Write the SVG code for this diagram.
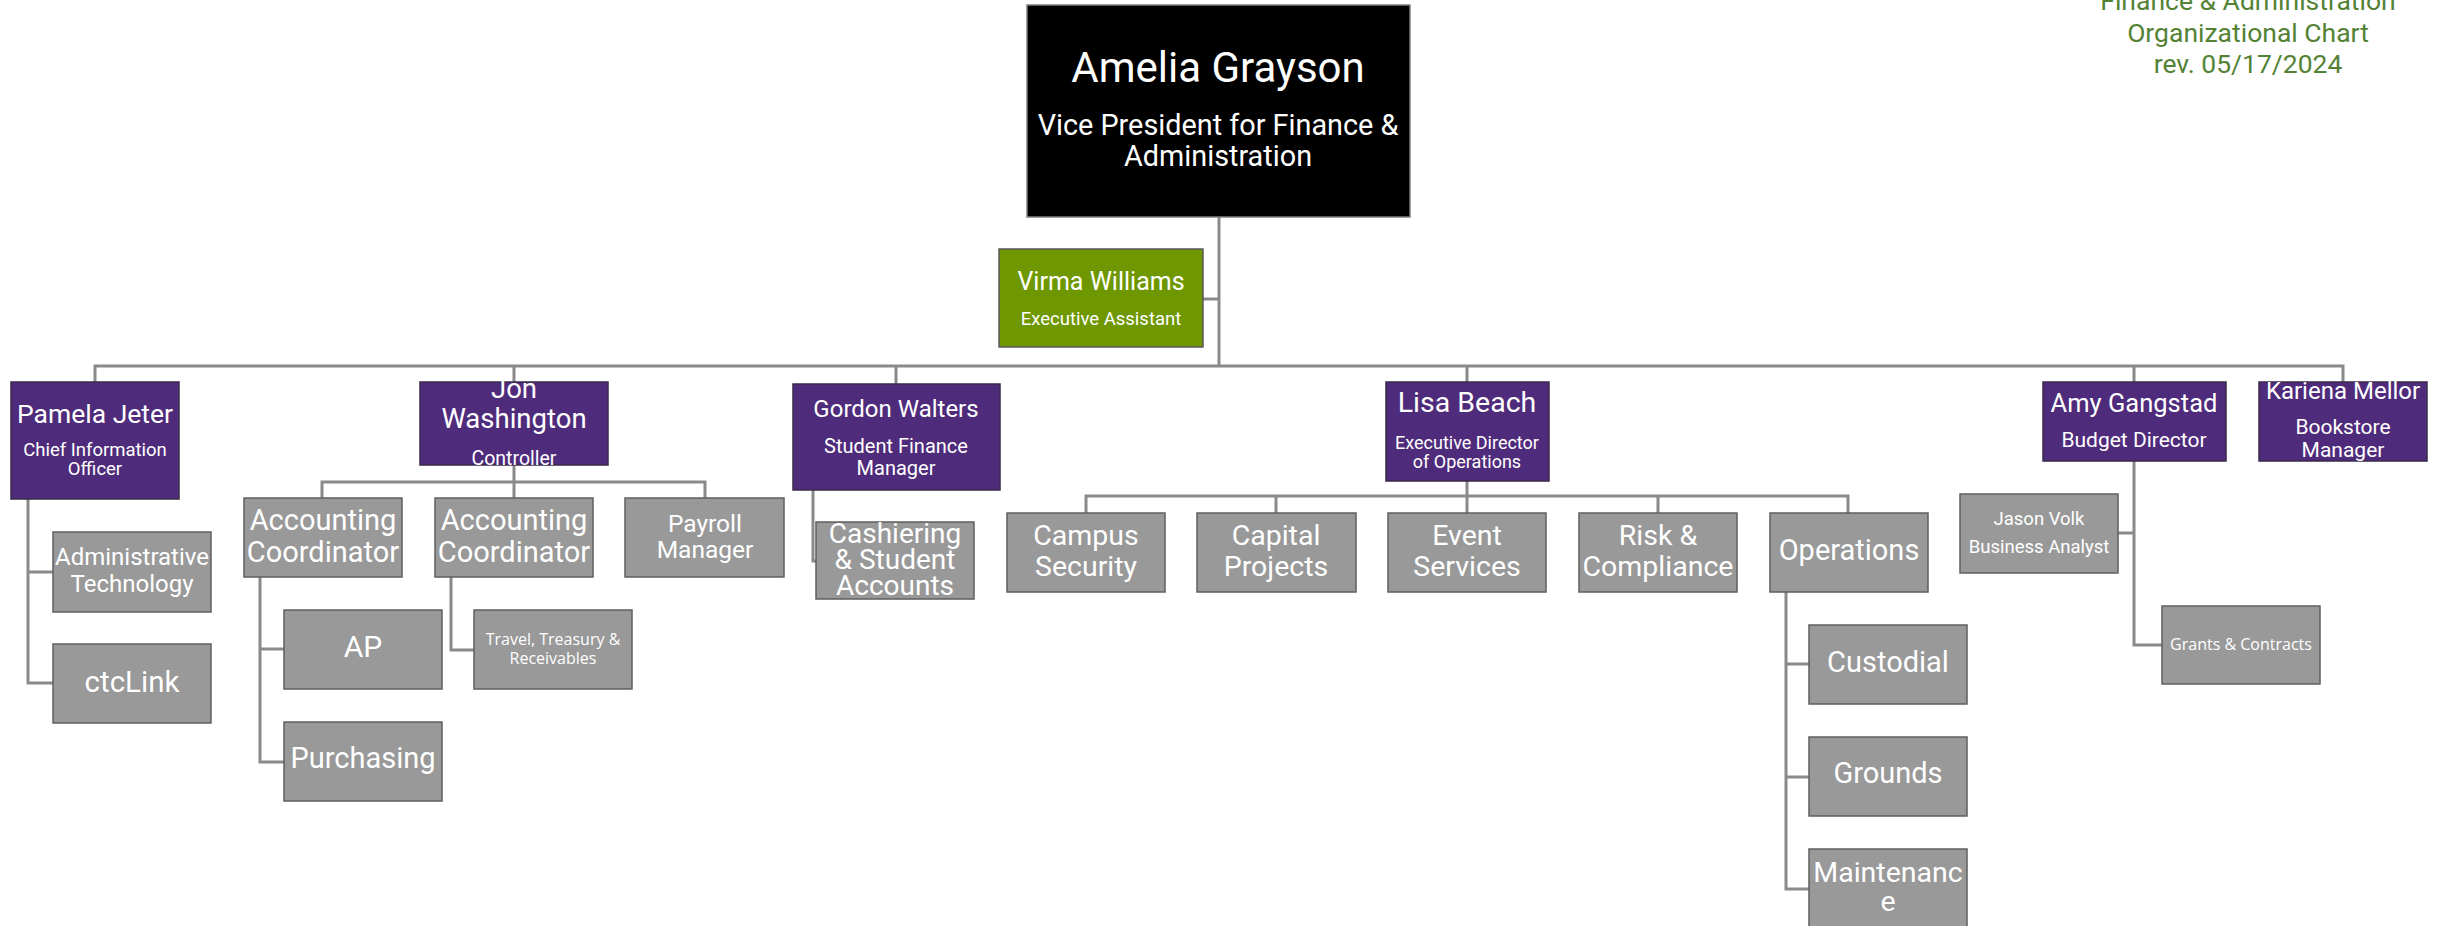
<svg xmlns="http://www.w3.org/2000/svg" width="2443" height="926" viewBox="0 0 2443 926">
<style>
.bk{fill:#000;stroke:#7f7f7f;stroke-width:1.5}
.gr{fill:#6f9700;stroke:#5a5a5a;stroke-width:1.5}
.pu{fill:#4f2b7b;stroke:#3a2a4a;stroke-width:1.5}
.gy{fill:#999999;stroke:#5f5f5f;stroke-width:1.5}
text{fill:#fff;font-family:Roboto,"Liberation Sans",sans-serif;text-anchor:middle}
.cal{font-family:"Open Sans","Liberation Sans",sans-serif}
.title{fill:#548235}
.conn{fill:none;stroke:#8a8a8a;stroke-width:3}
</style>
<g id="title">
<text class="title" x="2248" y="10" font-size="26.5">Finance &amp; Administration</text>
<text class="title" x="2248" y="42" font-size="26.5">Organizational Chart</text>
<text class="title" x="2248" y="73" font-size="26.5">rev. 05/17/2024</text>
</g>
<g id="connectors" class="conn">
<path d="M1219,217 V366"/>
<path d="M1203,299 H1219"/>
<path d="M95,382 V366 H2343 V382"/>
<path d="M514,366 V382 M896,366 V384 M1467,366 V382 M2134,366 V382"/>
<path d="M28,499 V683 H53 M28,572 H53"/>
<path d="M514,465 V498 M322,498 V482 H705 V498"/>
<path d="M260,577 V762 H284 M260,649 H284"/>
<path d="M451,577 V650 H474"/>
<path d="M813,490 V561 H816"/>
<path d="M1467,481 V513 M1086,513 V496 H1848 V513 M1276,496 V513 M1658,496 V513"/>
<path d="M1786,592 V889 H1809 M1786,664 H1809 M1786,777 H1809"/>
<path d="M2134,461 V645 H2162 M2118,533 H2134"/>
</g>
<g id="vp">
<rect class="bk" x="1027" y="5" width="383" height="212"/>
<text x="1218" y="82" font-size="42">Amelia Grayson</text>
<text x="1218" y="135" font-size="28.8">Vice President for Finance &amp;</text>
<text x="1218" y="166" font-size="28.8">Administration</text>
</g>
<g id="virma">
<rect class="gr" x="999" y="249" width="204" height="98"/>
<text x="1101" y="290" font-size="25">Virma Williams</text>
<text x="1101" y="325" font-size="18.5">Executive Assistant</text>
</g>
<g id="pamela">
<rect class="pu" x="11" y="382" width="168" height="117"/>
<text x="95" y="423" font-size="26.5">Pamela Jeter</text>
<text x="95" y="456" font-size="18.5">Chief Information</text>
<text x="95" y="475" font-size="18.5">Officer</text>
</g>
<g id="jon">
<rect class="pu" x="420" y="382" width="188" height="83"/>
<text x="514" y="398" font-size="27.5">Jon</text>
<text x="514" y="428" font-size="27.5">Washington</text>
<text x="514" y="465" font-size="19.5">Controller</text>
</g>
<g id="gordon">
<rect class="pu" x="793" y="384" width="207" height="106"/>
<text x="896" y="417" font-size="24">Gordon Walters</text>
<text x="896" y="453" font-size="20">Student Finance</text>
<text x="896" y="475" font-size="20">Manager</text>
</g>
<g id="lisa">
<rect class="pu" x="1386" y="382" width="163" height="99"/>
<text x="1467" y="412" font-size="28.5">Lisa Beach</text>
<text x="1467" y="449" font-size="18">Executive Director</text>
<text x="1467" y="468" font-size="18">of Operations</text>
</g>
<g id="amy">
<rect class="pu" x="2043" y="382" width="183" height="79"/>
<text x="2134" y="412" font-size="25.5">Amy Gangstad</text>
<text x="2134" y="447" font-size="21">Budget Director</text>
</g>
<g id="kariena">
<rect class="pu" x="2259" y="382" width="168" height="79"/>
<text x="2343" y="399" font-size="24">Kariena Mellor</text>
<text x="2343" y="434" font-size="21">Bookstore</text>
<text x="2343" y="457" font-size="21">Manager</text>
</g>
<g id="admintech">
<rect class="gy" x="53" y="532" width="158" height="80"/>
<text x="132" y="565" font-size="24">Administrative</text>
<text x="132" y="592" font-size="24">Technology</text>
</g>
<g id="ctclink">
<rect class="gy" x="53" y="644" width="158" height="79"/>
<text x="132" y="692" font-size="29.5">ctcLink</text>
</g>
<g id="ac1">
<rect class="gy" x="244" y="498" width="158" height="79"/>
<text x="323" y="530" font-size="29">Accounting</text>
<text x="323" y="562" font-size="29">Coordinator</text>
</g>
<g id="ac2">
<rect class="gy" x="435" y="498" width="158" height="79"/>
<text x="514" y="530" font-size="29">Accounting</text>
<text x="514" y="562" font-size="29">Coordinator</text>
</g>
<g id="payroll">
<rect class="gy" x="625" y="498" width="159" height="79"/>
<text x="705" y="532" font-size="24.5">Payroll</text>
<text x="705" y="558" font-size="24.5">Manager</text>
</g>
<g id="ap">
<rect class="gy" x="284" y="610" width="158" height="79"/>
<text x="363" y="657" font-size="30">AP</text>
</g>
<g id="purchasing">
<rect class="gy" x="284" y="722" width="158" height="79"/>
<text x="363" y="768" font-size="29">Purchasing</text>
</g>
<g id="travel">
<rect class="gy" x="474" y="610" width="158" height="79"/>
<text class="cal" x="553" y="645" font-size="16">Travel, Treasury &amp;</text>
<text class="cal" x="553" y="664" font-size="16">Receivables</text>
</g>
<g id="cashiering">
<rect class="gy" x="816" y="522" width="158" height="77"/>
<text x="895" y="543" font-size="28">Cashiering</text>
<text x="895" y="569" font-size="28">&amp; Student</text>
<text x="895" y="595" font-size="28">Accounts</text>
</g>
<g id="campus">
<rect class="gy" x="1007" y="513" width="158" height="79"/>
<text x="1086" y="545" font-size="28.5">Campus</text>
<text x="1086" y="576" font-size="28.5">Security</text>
</g>
<g id="capital">
<rect class="gy" x="1197" y="513" width="159" height="79"/>
<text x="1276" y="545" font-size="28.5">Capital</text>
<text x="1276" y="576" font-size="28.5">Projects</text>
</g>
<g id="event">
<rect class="gy" x="1388" y="513" width="158" height="79"/>
<text x="1467" y="545" font-size="28.5">Event</text>
<text x="1467" y="576" font-size="28.5">Services</text>
</g>
<g id="risk">
<rect class="gy" x="1579" y="513" width="158" height="79"/>
<text x="1658" y="545" font-size="28.5">Risk &amp;</text>
<text x="1658" y="576" font-size="28.5">Compliance</text>
</g>
<g id="operations">
<rect class="gy" x="1770" y="513" width="158" height="79"/>
<text x="1849" y="560" font-size="29">Operations</text>
</g>
<g id="custodial">
<rect class="gy" x="1809" y="625" width="158" height="79"/>
<text x="1888" y="672" font-size="29">Custodial</text>
</g>
<g id="grounds">
<rect class="gy" x="1809" y="737" width="158" height="79"/>
<text x="1888" y="783" font-size="29">Grounds</text>
</g>
<g id="maintenance">
<rect class="gy" x="1809" y="849" width="158" height="79"/>
<text x="1888" y="882" font-size="28.5">Maintenanc</text>
<text x="1888" y="911" font-size="28.5">e</text>
</g>
<g id="jason">
<rect class="gy" x="1960" y="494" width="158" height="79"/>
<text x="2039" y="525" font-size="18.5">Jason Volk</text>
<text x="2039" y="553" font-size="18.5">Business Analyst</text>
</g>
<g id="grants">
<rect class="gy" x="2162" y="606" width="158" height="78"/>
<text class="cal" x="2241" y="650" font-size="16">Grants &amp; Contracts</text>
</g>
</svg>
